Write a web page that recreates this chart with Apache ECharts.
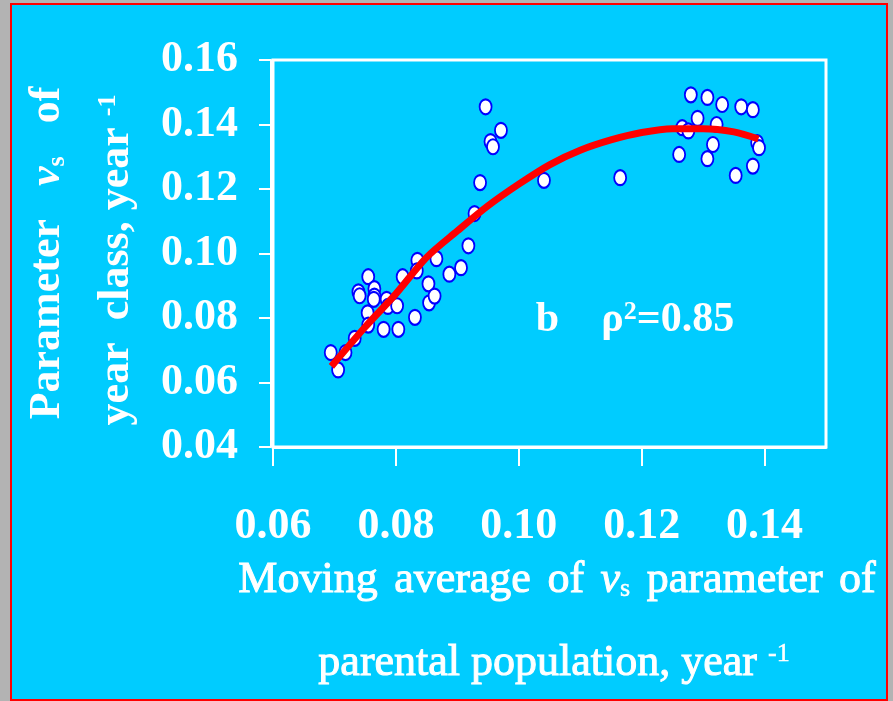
<!DOCTYPE html>
<html>
<head>
<meta charset="utf-8">
<script src="https://cdn.jsdelivr.net/npm/echarts@6.0.0/dist/echarts.min.js"></script>
<style>
  html, body { margin: 0; padding: 0; background: #b3b3b3; }
  #wrap { position: relative; width: 893px; height: 701px; overflow: hidden; }
  #frame {
    position: absolute; left: 10px; top: 3px; width: 878px; height: 698px;
    box-sizing: border-box; border: 2px solid #ff0000; background: #00ccff;
  }
  #main { position: absolute; left: 0; top: 0; width: 893px; height: 701px; }
</style>
</head>
<body>
<div id="wrap">
  <div id="frame"></div>
  <div id="main"></div>
</div>
<script>
// scatter points
const pointX = [0.0694, 0.0706, 0.0718, 0.0733, 0.0755, 0.0739, 0.0741, 0.0765, 0.0765, 0.0764,
  0.0754, 0.0755, 0.0785, 0.0787, 0.0802, 0.0780, 0.0804, 0.0811, 0.0831, 0.0835,
  0.0834, 0.0853, 0.0854, 0.0863, 0.0866, 0.0887, 0.0906, 0.0918, 0.0928, 0.0937,
  0.0946, 0.0971, 0.0954, 0.0958, 0.1041, 0.1165, 0.1261, 0.1266, 0.1276, 0.1280,
  0.1291, 0.1307, 0.1307, 0.1316, 0.1322, 0.1331, 0.1353, 0.1362, 0.1381, 0.1381,
  0.1388, 0.1391];
const pointY = [0.0693, 0.0639, 0.0693, 0.0737, 0.0928, 0.0881, 0.0869, 0.0891, 0.0868, 0.0858,
  0.0816, 0.0778, 0.0858, 0.0836, 0.0838, 0.0765, 0.0765, 0.0928, 0.0802, 0.0979,
  0.0946, 0.0906, 0.0847, 0.0868, 0.0984, 0.0936, 0.0956, 0.1024, 0.1124, 0.1220,
  0.1455, 0.1382, 0.1347, 0.1331, 0.1227, 0.1235, 0.1307, 0.1390, 0.1380, 0.1492,
  0.1419, 0.1484, 0.1294, 0.1338, 0.1400, 0.1462, 0.1242, 0.1455, 0.1446, 0.1271,
  0.1344, 0.1328];

// red fitted curve, read along its path
const curveX = [0.0695, 0.075, 0.080, 0.085, 0.090, 0.095, 0.100, 0.105, 0.110, 0.115, 0.120, 0.125, 0.130, 0.135, 0.139];
const curveY = [0.065, 0.0772, 0.0875, 0.0988, 0.107, 0.1148, 0.1215, 0.1275, 0.132, 0.1352, 0.1375, 0.1387, 0.1387, 0.1377, 0.1355];

// tick labels
const xTicks = [0.06, 0.08, 0.10, 0.12, 0.14];

const FONT = '"Liberation Serif", "Times New Roman", serif';

const scatterData = pointX.map((x, i) => [x, pointY[i]]);
const curveData = curveX.map((x, i) => [x, curveY[i]]);

const txt = (size, extra) => Object.assign({
  fontSize: size, fontFamily: FONT, fontWeight: 'bold', fill: '#fff', lineHeight: size, verticalAlign: 'bottom'
}, extra || {});
// regular weight, slightly thickened with a thin stroke
const reg = (size, extra) => txt(size, Object.assign({ fontWeight: 'normal', stroke: '#fff', lineWidth: 1 }, extra || {}));

const myChart = echarts.init(document.getElementById('main'));
const option = {
  backgroundColor: 'transparent',
  animation: false,
  grid: {
    left: 273, right: 67, top: 60, bottom: 254,
    show: true, borderColor: '#fff', borderWidth: 3, backgroundColor: 'transparent',
    outerBoundsMode: 'none'
  },
  xAxis: {
    type: 'value', min: 0.06, max: 0.15, interval: 0.02, offset: 1,
    axisLine: { show: true, lineStyle: { color: '#fff', width: 2 } },
    axisTick: { show: true, length: 18, lineStyle: { color: '#fff', width: 2 }, customValues: xTicks },
    axisLabel: {
      customValues: xTicks, margin: 57, color: '#fff', fontFamily: FONT, fontWeight: 'bold', fontSize: 44,
      formatter: v => v.toFixed(2)
    },
    splitLine: { show: false }
  },
  yAxis: {
    type: 'value', min: 0.04, max: 0.16, interval: 0.02, offset: 2,
    axisLine: { show: true, lineStyle: { color: '#fff', width: 2 } },
    axisTick: { show: true, length: 12, lineStyle: { color: '#fff', width: 2 } },
    axisLabel: {
      margin: 33, color: '#fff', fontFamily: FONT, fontWeight: 'bold', fontSize: 44,
      formatter: v => v.toFixed(2)
    },
    splitLine: { show: false }
  },
  series: [
    {
      type: 'scatter',
      data: scatterData,
      symbol: 'circle',
      symbolSize: [12, 15],
      itemStyle: { color: '#fff', borderColor: '#0000ff', borderWidth: 2, opacity: 1 },
      z: 2
    },
    {
      type: 'line',
      data: curveData,
      smooth: 0.3,
      showSymbol: false,
      lineStyle: { color: '#ff0000', width: 7 },
      z: 3
    }
  ],
  graphic: [
    {
      type: 'text', x: 48, y: 253, rotation: Math.PI / 2,
      style: {
        text: '{t|Parameter   }{i|v}{s|s}{t|   of}',
        align: 'center', verticalAlign: 'middle', textAlign: 'center', textVerticalAlign: 'middle',
        rich: { t: txt(44), i: txt(44, { fontStyle: 'italic' }), s: txt(26, { lineHeight: 20 }) }
      }
    },
    {
      type: 'text', x: 117, y: 260, rotation: Math.PI / 2,
      style: {
        text: '{t|year  class, year }{p|-1}',
        align: 'center', verticalAlign: 'middle', textAlign: 'center', textVerticalAlign: 'middle',
        rich: { t: txt(44), p: txt(26, { verticalAlign: 'top', lineHeight: 26 }) }
      }
    },
    {
      type: 'text', x: 557, y: 580,
      style: {
        text: '{t|Moving}{g| }{t|average}{g| }{t|of}{g| }{i|v}{s|s}{g| }{t|parameter}{g| }{t|of}',
        align: 'center', verticalAlign: 'middle', textAlign: 'center', textVerticalAlign: 'middle',
        rich: {
          t: reg(44), i: reg(44, { fontStyle: 'italic' }), s: reg(26, { lineHeight: 20, lineWidth: 0.5 }),
          g: reg(66, { lineHeight: 20 })
        }
      }
    },
    {
      type: 'text', x: 554, y: 663,
      style: {
        text: '{t|parental population, year }{p|-1}',
        align: 'center', verticalAlign: 'middle', textAlign: 'center', textVerticalAlign: 'middle',
        rich: { t: reg(44), p: reg(26, { verticalAlign: 'top', lineHeight: 26, lineWidth: 0.5 }) }
      }
    },
    {
      type: 'text', x: 635, y: 320,
      style: {
        text: '{t|b    ρ}{p|2}{t|=0.85}',
        align: 'center', verticalAlign: 'middle', textAlign: 'center', textVerticalAlign: 'middle',
        rich: { t: txt(42), p: txt(26, { verticalAlign: 'top', lineHeight: 26 }) }
      }
    }
  ]
};
myChart.setOption(option);
</script>
</body>
</html>
